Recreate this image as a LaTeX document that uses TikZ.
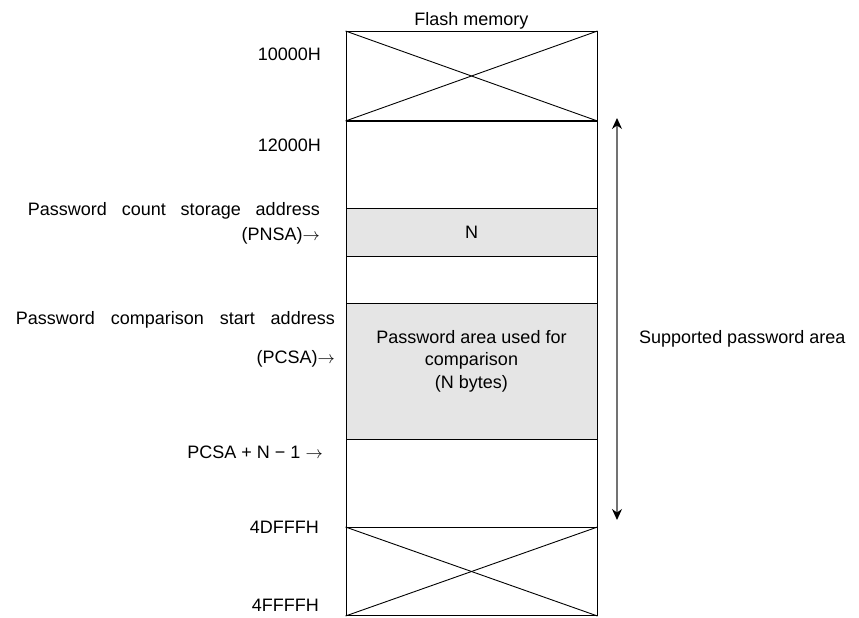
\documentclass[tikz,border=0pt]{standalone}
\usepackage{fontspec}
\setmainfont{Liberation Sans}
\usetikzlibrary{arrows.meta}
\begin{document}
\begin{tikzpicture}[x=1pt,y=-1pt,
  every node/.style={font=\fontsize{18}{22.5}\selectfont, inner sep=0pt},
  lbl/.style={anchor=base east},
  region/.style={draw=black, line width=1pt, minimum width=251pt, anchor=north},
  shaded/.style={region, fill=black!10},
  crossline/.style={draw=black, line width=0.9pt},
  spanarrow/.style={draw=black!55, line width=1.3pt, {Stealth[black,length=11pt,width=10pt]}-{Stealth[black,length=11pt,width=10pt]}}
]
\useasboundingbox (0,0) rectangle (859,618);
% memory regions
\node[region, minimum height=89pt] (r1) at (471.5,31) {};
\node[region, minimum height=88pt] (r2) at (471.5,120) {};
\node[shaded, minimum height=48pt] (r3) at (471.5,208) {N};
\node[region, minimum height=47pt] (r4) at (471.5,256) {};
\node[shaded, minimum height=136pt] (r5) at (471.5,303) {};
\node[region, minimum height=88pt] (r6) at (471.5,439) {};
\node[region, minimum height=88pt] (r7) at (471.5,527) {};
\draw[line width=1.6pt] (r1.south west) -- (r1.south east);
% crosses
\draw[crossline] (r1.north west) -- (r1.south east);
\draw[crossline] (r1.south west) -- (r1.north east);
\draw[crossline] (r7.north west) -- (r7.south east);
\draw[crossline] (r7.south west) -- (r7.north east);
% texts inside
\node[align=center] (pa) at (471.5,361) {Password area used for\\comparison\\(N bytes)};
\node[anchor=base] (fm) at (471.5,26) {Flash memory};
% left labels
\node[lbl] (a1) at (321,60) {10000H};
\node[lbl] (a2) at (321,151.5) {12000H};
\node[lbl] (pnsa1) at (320,215.5) {\makebox[292pt][s]{Password count storage address}};
\node[lbl] (pnsa2) at (320,240.5) {(PNSA)$\rightarrow$};
\node[lbl] (pcsa1) at (335,324.5) {\makebox[319pt][s]{Password comparison start address}};
\node[lbl] (pcsa2) at (335,363.5) {(PCSA)$\rightarrow$};
\node[lbl] (pend) at (323,458.5) {PCSA + N − 1 $\rightarrow$};
\node[lbl] (a3) at (319,533) {4DFFFH};
\node[lbl] (a4) at (319,611.5) {4FFFFH};
% supported area arrow
\coordinate (atop) at (617,118);
\coordinate (abot) at (617,520);
\draw[spanarrow] (abot) -- (atop);
\node[anchor=base west] (sup) at (639,343.5) {Supported password area};
\end{tikzpicture}
\end{document}
